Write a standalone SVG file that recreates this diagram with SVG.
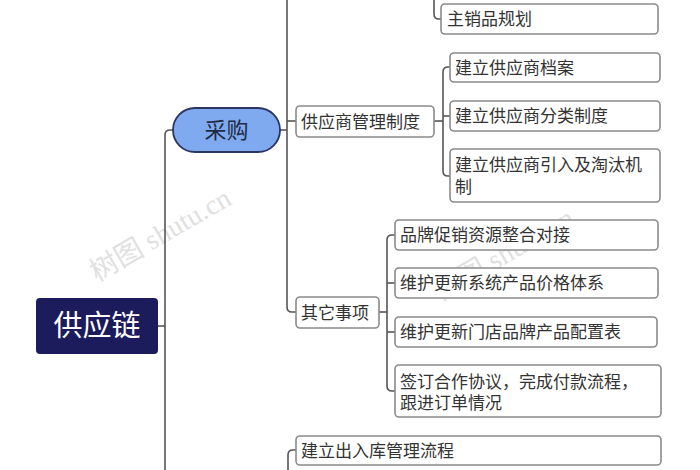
<svg xmlns="http://www.w3.org/2000/svg" width="700" height="470" viewBox="0 0 700 470">
<style>
.wm{font-family:"Liberation Serif","Noto Sans CJK SC",serif;font-size:28px;fill:#d4d4d4;opacity:0.7}
.box{fill:#ffffff;stroke:#8a8a8a;stroke-width:1.6}
.t{font-family:"Noto Sans CJK SC","Noto Sans",sans-serif;font-size:17px;fill:#333333}
.ln{fill:none;stroke:#555555;stroke-width:1.6}
</style>
<rect width="700" height="470" fill="#ffffff"/>
<g id="watermarks">
<text class="wm" transform="translate(97,282) rotate(-30)">树图 shutu.cn</text>
<text class="wm" transform="translate(440,302) rotate(-30)">树图 shutu.cn</text>
</g>
<g id="connectors">
<path class="ln" d="M158,326 H165"/>
<path class="ln" d="M173,130 H170 Q165,130 165,135 V470"/>
<path class="ln" d="M280,130 H287"/>
<path class="ln" d="M287,0 V307 Q287,312 292,312 H296"/>
<path class="ln" d="M287,121 H296"/>
<path class="ln" d="M434,0 V14 Q434,19 439,19 H441"/>
<path class="ln" d="M434,121 H443"/>
<path class="ln" d="M450,67 H448 Q443,67 443,72 V171 Q443,176 448,176 H450"/>
<path class="ln" d="M443,116 H450"/>
<path class="ln" d="M379,312 H387"/>
<path class="ln" d="M395,235 H392 Q387,235 387,240 V386 Q387,391 392,391 H395"/>
<path class="ln" d="M387,283 H395"/>
<path class="ln" d="M387,332 H395"/>
<path class="ln" d="M296,450 H293 Q288,450 288,455 V470"/>
</g>
<g id="root">
<rect x="36" y="298" width="122" height="56" rx="4" fill="#1c1b5c"/>
<text x="97" y="336" text-anchor="middle" font-family="Noto Sans CJK SC,sans-serif" font-size="29" fill="#ffffff">供应链</text>
</g>
<g id="caigou">
<rect x="173" y="108" width="107" height="44" rx="22" fill="#80aaf0" stroke="#2b3560" stroke-width="1.8"/>
<text x="226.5" y="138" text-anchor="middle" font-family="Noto Sans CJK SC,sans-serif" font-size="22" fill="#1f2a44">采购</text>
</g>
<g id="zhuxiaopin">
<rect class="box" x="441" y="4" width="217" height="30" rx="4"/>
<text class="t" x="447" y="25">主销品规划</text>
</g>
<g id="gongyingshang">
<rect class="box" x="296" y="106" width="138" height="31" rx="4"/>
<text class="t" x="301" y="127.5">供应商管理制度</text>
</g>
<g id="dangan">
<rect class="box" x="450" y="53" width="210" height="29" rx="4"/>
<text class="t" x="455" y="73.5">建立供应商档案</text>
</g>
<g id="fenlei">
<rect class="box" x="450" y="101" width="210" height="30" rx="4"/>
<text class="t" x="455" y="122">建立供应商分类制度</text>
</g>
<g id="yinru">
<rect class="box" x="450" y="149" width="210" height="53" rx="4"/>
<text class="t"><tspan x="455" y="171">建立供应商引入及淘汰机</tspan><tspan x="455" y="193">制</tspan></text>
</g>
<g id="qita">
<rect class="box" x="296" y="297" width="83" height="31" rx="4"/>
<text class="t" x="301" y="318.5">其它事项</text>
</g>
<g id="pinpai">
<rect class="box" x="395" y="220" width="263" height="30" rx="4"/>
<text class="t" x="400" y="241">品牌促销资源整合对接</text>
</g>
<g id="jiage">
<rect class="box" x="395" y="268" width="263" height="30" rx="4"/>
<text class="t" x="400" y="289">维护更新系统产品价格体系</text>
</g>
<g id="peizhi">
<rect class="box" x="395" y="317" width="262" height="30" rx="4"/>
<text class="t" x="400" y="338">维护更新门店品牌产品配置表</text>
</g>
<g id="qianding">
<rect class="box" x="395" y="365" width="266" height="52" rx="4"/>
<text class="t"><tspan x="400" y="388">签订合作协议，完成付款流程，</tspan><tspan x="400" y="409">跟进订单情况</tspan></text>
</g>
<g id="churuku">
<rect class="box" x="296" y="436" width="365" height="29" rx="4"/>
<text class="t" x="301" y="456.5">建立出入库管理流程</text>
</g>
</svg>
